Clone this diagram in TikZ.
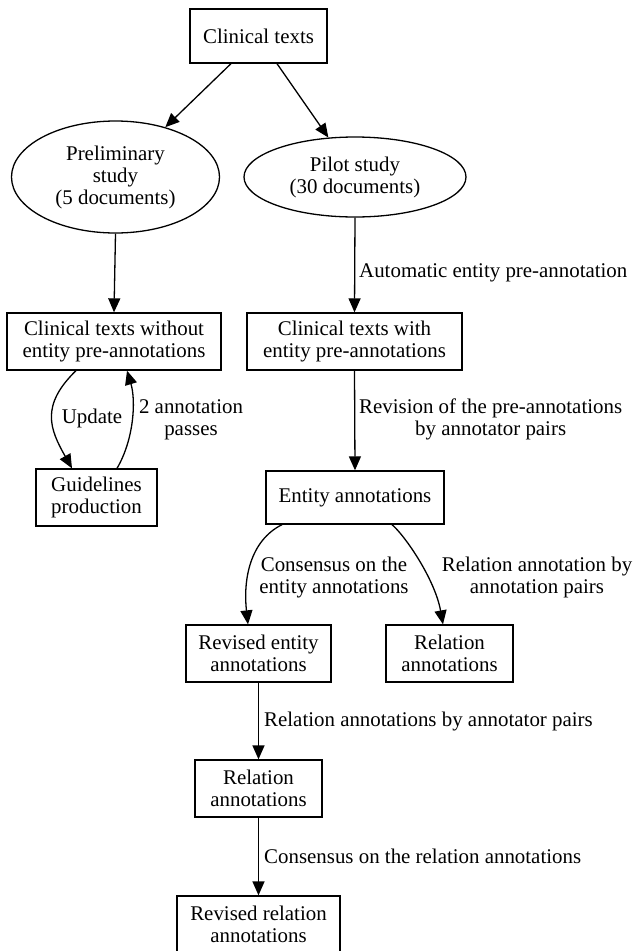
\documentclass[tikz,border=0pt]{standalone}
\usepackage{fontspec}
\setmainfont{Liberation Serif}
\usetikzlibrary{shapes.geometric,arrows.meta}
\begin{document}
\begin{tikzpicture}[x=1pt,y=-1pt,
  every node/.style={font=\fontsize{20.9}{22}\selectfont, align=center, inner sep=0pt},
  box/.style={draw, rectangle, line width=1.3pt},
  oval/.style={draw, ellipse, line width=1.3pt},
  edge/.style={line width=1.3pt, -{Triangle[length=14pt,width=12pt]}},
  lab/.style={}]
\useasboundingbox (0,0) rectangle (633,951);
% nodes
\node[box, minimum width=137pt, minimum height=54pt] (ct) at (258.5,36) {Clinical texts};
\node[oval, minimum width=208pt, minimum height=112pt] (pre) at (115.5,177) {Preliminary\\study\\(5 documents)};
\node[oval, minimum width=222pt, minimum height=80pt] (pil) at (355,177) {Pilot study\\(30 documents)};
\node[box, minimum width=214pt, minimum height=57pt] (wo) at (114,341.5) {Clinical texts without\\entity pre-annotations};
\node[box, minimum width=215pt, minimum height=57pt] (wi) at (354.5,341.5) {Clinical texts with\\entity pre-annotations};
\node[box, minimum width=121pt, minimum height=57pt] (gl) at (96.5,497.5) {Guidelines\\production};
\node[box, minimum width=178pt, minimum height=53pt] (ea) at (355,497.5) {Entity annotations};
\node[box, minimum width=145pt, minimum height=57pt] (rea) at (258.5,653.5) {Revised entity\\annotations};
\node[box, minimum width=127pt, minimum height=57pt] (ra) at (449.5,653.5) {Relation\\annotations};
\node[box, minimum width=127pt, minimum height=57pt] (ra2) at (258.5,788.5) {Relation\\annotations};
\node[box, minimum width=163pt, minimum height=57pt] (rra) at (258.5,924.5) {Revised relation\\annotations};
% edges
\draw[edge] ([xshift=-27.5pt]ct.south) -- (pre.45);
\draw[edge] ([xshift=18.5pt]ct.south) -- (pil.124);
\draw[edge] (pre.south) -- (wo.north);
\draw[edge] (pil.south) -- (wi.north);
\draw[edge] ([xshift=-38pt]wo.south) .. controls +(-36,35) and +(-22,-39) .. ([xshift=-24.5pt]gl.north);
\draw[edge] ([xshift=20.5pt]gl.north) .. controls +(17,-29) and +(9,30) .. ([xshift=13pt]wo.south);
\draw[edge] (wi.south) -- (ea.north);
\draw[edge] ([xshift=-73pt]ea.south) .. controls +(-32,16) and +(-5,-45) .. ([xshift=-10.5pt]rea.north);
\draw[edge] ([xshift=37pt]ea.south) .. controls +(13,11) and +(-8,-45) .. ([xshift=-6.5pt]ra.north);
\draw[edge] (rea.south) -- (ra2.north);
\draw[edge] (ra2.south) -- (rra.north);
% labels
\node[lab, anchor=west] (l1) at (359,273) {Automatic entity pre-annotation};
\node[lab, anchor=west] (l2) at (359,419) {Revision of the pre-annotations\\by annotator pairs};
\node[lab] (l3) at (92,418) {Update};
\node[lab] (l4) at (191,419.5) {2 annotation\\passes};
\node[lab] (l5) at (334,577) {Consensus on the\\entity annotations};
\node[lab] (l6) at (537,577) {Relation annotation by\\annotation pairs};
\node[lab, anchor=west] (l7) at (264,721) {Relation annotations by annotator pairs};
\node[lab, anchor=west] (l8) at (264,856) {Consensus on the relation annotations};
\end{tikzpicture}
\end{document}
